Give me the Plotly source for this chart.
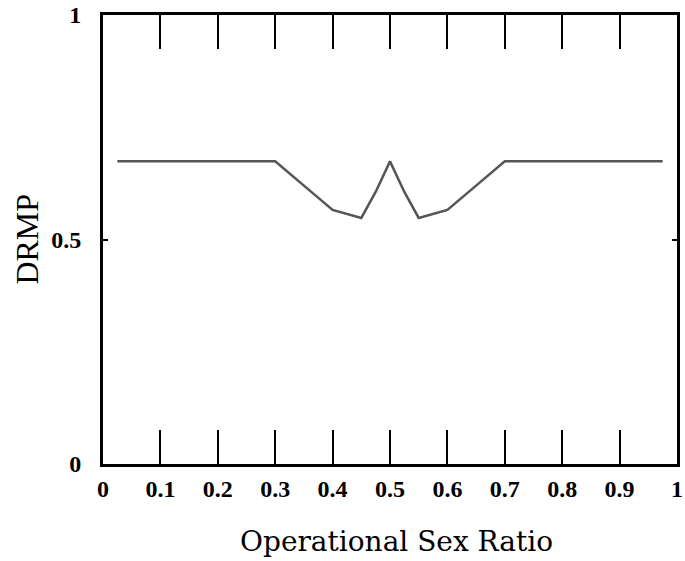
import plotly.graph_objects as go

osr = [0.025, 0.1, 0.2, 0.3, 0.35, 0.4, 0.45, 0.475, 0.5, 0.525, 0.55, 0.6, 0.65, 0.7, 0.8, 0.9, 0.975]
drmp = [0.674, 0.674, 0.674, 0.674, 0.62, 0.566, 0.548, 0.606, 0.674, 0.606, 0.548, 0.566, 0.62, 0.674, 0.674, 0.674, 0.674]

x_ticks = [0, 0.1, 0.2, 0.3, 0.4, 0.5, 0.6, 0.7, 0.8, 0.9, 1]
x_ticklabels = ["0", "0.1", "0.2", "0.3", "0.4", "0.5", "0.6", "0.7", "0.8", "0.9", "1"]
y_ticks = [0, 0.5, 1]
y_ticklabels = ["0", "0.5", "1"]

fig = go.Figure()
fig.add_trace(go.Scatter(x=osr, y=drmp, mode="lines",
                         line=dict(color="#555555", width=2.5), showlegend=False))

tickfont = dict(family="Liberation Serif", size=24, color="black", weight="bold")

fig.update_layout(
    width=685, height=561,
    margin=dict(l=103, r=8, t=15, b=97, autoexpand=False),
    paper_bgcolor="white", plot_bgcolor="white",
    xaxis=dict(range=[0, 1], tickvals=x_ticks, ticktext=x_ticklabels,
               ticks="inside", ticklen=34, tickwidth=2, tickcolor="black",
               showline=True, linewidth=3, linecolor="black", mirror="ticks",
               showgrid=False, zeroline=False, tickfont=tickfont,
               ticklabelstandoff=1, automargin=False),
    yaxis=dict(range=[0, 1], tickvals=y_ticks, ticktext=y_ticklabels,
               ticks="inside", ticklen=5, tickwidth=2, tickcolor="black",
               showline=True, linewidth=3, linecolor="black", mirror="ticks",
               showgrid=False, zeroline=False, tickfont=tickfont,
               ticklabelstandoff=14, automargin=False),
)
fig.add_annotation(text="Operational Sex Ratio", xref="paper", yref="paper",
                   x=0.512, y=-0.172, xanchor="center", yanchor="middle", showarrow=False,
                   font=dict(family="DejaVu Serif", size=28, color="black"))
fig.add_annotation(text="DRMP", xref="paper", yref="paper",
                   x=-0.134, y=0.5, xanchor="center", yanchor="middle", showarrow=False,
                   textangle=-90,
                   font=dict(family="Liberation Serif", size=32, color="black"))

fig.write_html("out.html", config={"displayModeBar": False},
               post_script="document.body.style.margin='0';document.body.style.overflow='hidden';")
